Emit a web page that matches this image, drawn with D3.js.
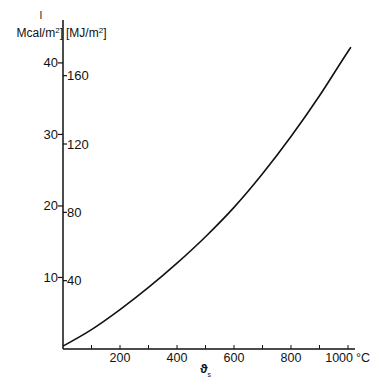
<!DOCTYPE html>
<html><head><meta charset="utf-8">
<script src="https://cdn.jsdelivr.net/npm/d3@7"></script>
<style>body{margin:0;background:#fff}svg{display:block}text{font-family:"Liberation Sans",Arial,sans-serif;fill:#111}</style>
</head><body>
<script>
const tempC = [0, 100, 200, 300, 400, 500, 600, 700, 800, 900, 1000, 1010];
const energyMcal = [0.4, 2.7, 5.5, 8.6, 12.0, 15.7, 19.8, 24.5, 29.7, 35.4, 41.6, 42.2];
const xTickLabels = [200, 400, 600, 800, 1000];
const xTicks = [100, 200, 300, 400, 500, 600, 700, 800, 900, 1000];
const mcalTicks = [10, 20, 30, 40];
const mjTicks = [40, 80, 120, 160];
const MJ_PER_MCAL = 4.1868;

const W = 388, H = 380;
const svg = d3.select("body").append("svg").attr("width", W).attr("height", H);

const x = d3.scaleLinear().domain([0, 1000]).range([63, 348]);
const y = d3.scaleLinear().domain([0, 46]).range([349, 20]);
const yMJ = d3.scaleLinear().domain([0, 46 * MJ_PER_MCAL]).range([349, 20]);

const ink = "#111";
svg.append("line").attr("x1", x(0)).attr("x2", 355).attr("y1", y(0)).attr("y2", y(0)).attr("stroke", ink).attr("stroke-width", 1.5);
svg.append("line").attr("x1", x(0)).attr("x2", x(0)).attr("y1", y(0)).attr("y2", y(46)).attr("stroke", ink).attr("stroke-width", 1.5);

svg.selectAll(".xt").data(xTicks).enter().append("line")
  .attr("x1", d => x(d)).attr("x2", d => x(d)).attr("y1", y(0)).attr("y2", y(0) - 4)
  .attr("stroke", ink).attr("stroke-width", 1);
svg.selectAll(".xl").data(xTickLabels).enter().append("text")
  .attr("x", d => d === 1000 ? x(d) + 5 : x(d)).attr("y", 362)
  .attr("text-anchor", d => d === 1000 ? "end" : "middle")
  .attr("font-size", 12.5).text(d => d);
svg.append("text").attr("x", 356).attr("y", 362).attr("font-size", 12.5).text("°C");

svg.selectAll(".yt").data(mcalTicks).enter().append("line")
  .attr("x1", x(0) - 5).attr("x2", x(0)).attr("y1", d => y(d)).attr("y2", d => y(d))
  .attr("stroke", ink).attr("stroke-width", 1.2);
svg.selectAll(".yl").data(mcalTicks).enter().append("text")
  .attr("x", x(0) - 5).attr("y", d => y(d) + 4.5).attr("text-anchor", "end")
  .attr("font-size", 13).text(d => d);

svg.selectAll(".mt").data(mjTicks).enter().append("line")
  .attr("x1", x(0)).attr("x2", x(0) + 4).attr("y1", d => yMJ(d)).attr("y2", d => yMJ(d))
  .attr("stroke", ink).attr("stroke-width", 1.2);
svg.selectAll(".ml").data(mjTicks).enter().append("text")
  .attr("x", x(0) + 4).attr("y", d => yMJ(d) + 4.5).attr("text-anchor", "start")
  .attr("font-size", 13).text(d => d);

svg.append("text").attr("x", 41).attr("y", 19).attr("font-size", 10).attr("text-anchor", "middle").text("I");
const u1 = svg.append("text").attr("x", 63).attr("y", 37).attr("font-size", 12).attr("text-anchor", "end");
u1.append("tspan").text("Mcal/m");
u1.append("tspan").attr("dy", -4).attr("font-size", 8).text("2");
u1.append("tspan").attr("dy", 4).text("]");
const u2 = svg.append("text").attr("x", 66).attr("y", 37).attr("font-size", 12);
u2.append("tspan").text("[MJ/m");
u2.append("tspan").attr("dy", -4).attr("font-size", 8).text("2");
u2.append("tspan").attr("dy", 4).text("]");

const th = svg.append("text").attr("x", 200).attr("y", 373).attr("font-size", 13).attr("font-weight", "bold");
th.append("tspan").text("ϑ");
th.append("tspan").attr("dy", 4).attr("font-size", 7).attr("font-weight", "normal").text("s");

const line = d3.line().x(d => x(d[0])).y(d => y(d[1])).curve(d3.curveMonotoneX);
svg.append("path").datum(tempC.map((t, i) => [t, energyMcal[i]]))
  .attr("d", line).attr("fill", "none").attr("stroke", ink).attr("stroke-width", 1.6);
</script>
</body></html>
